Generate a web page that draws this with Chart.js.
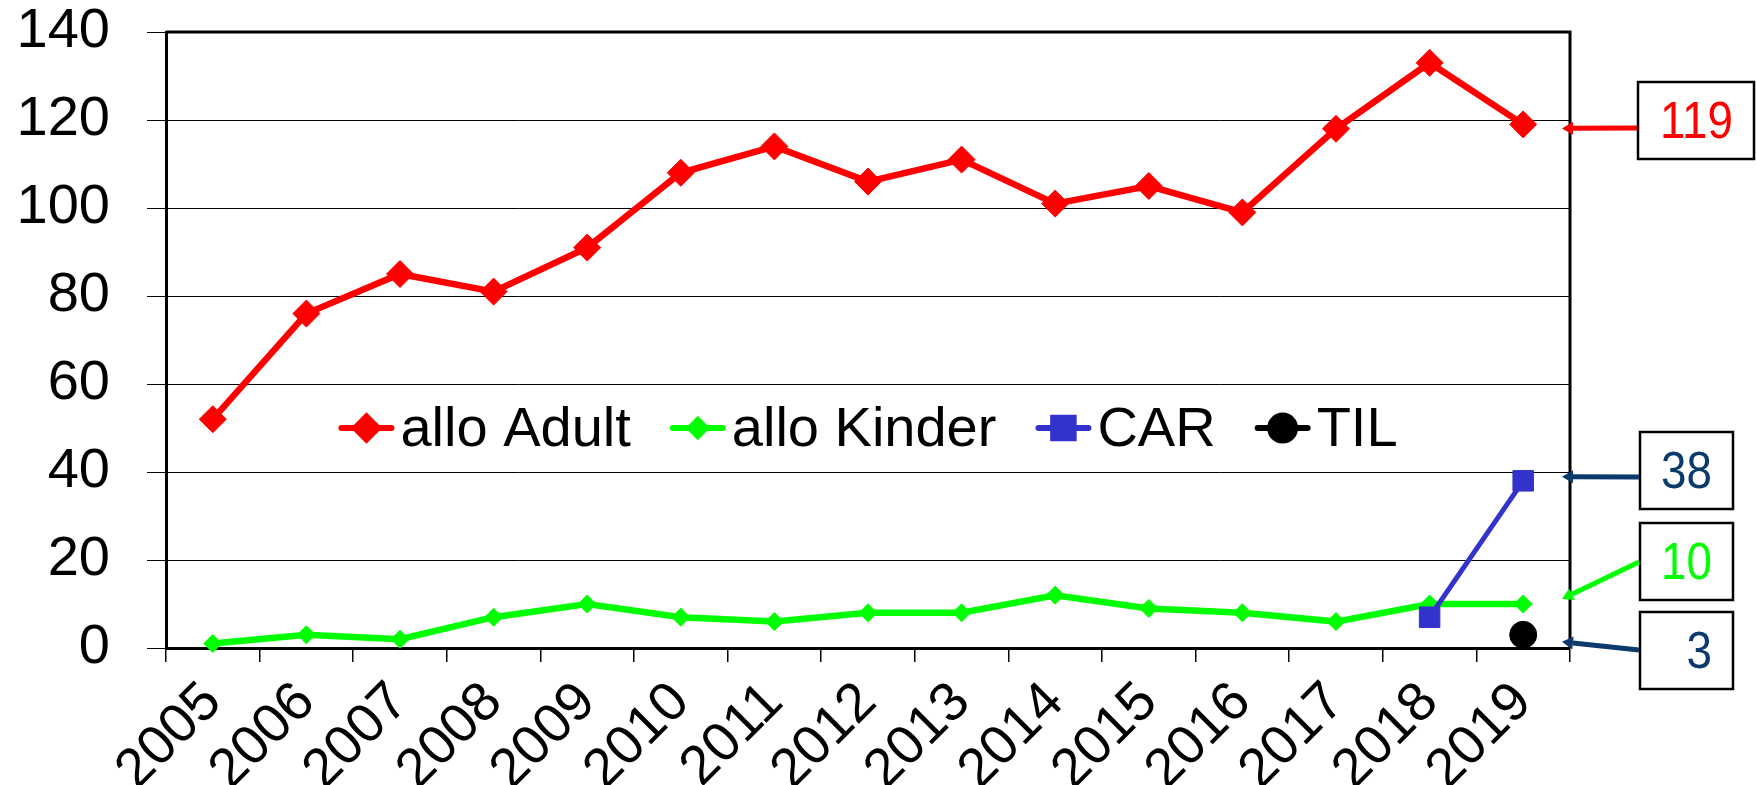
<!DOCTYPE html>
<html>
<head>
<meta charset="utf-8">
<script src="https://cdn.jsdelivr.net/npm/chart.js@4"></script>
<style>
  html, body { margin: 0; padding: 0; background: #fff; }
  #wrap { width: 1756px; height: 785px; }
</style>
</head>
<body>
<div id="wrap"><canvas id="chart" width="1756" height="785"></canvas></div>
<script>
// Jahre (x-Achse)
const years = ['2005', '2006', '2007', '2008', '2009', '2010', '2011', '2012',
  '2013', '2014', '2015', '2016', '2017', '2018', '2019'];

// Werte pro Serie
const alloAdult = [52, 76, 85, 81, 91, 108, 114, 106, 111, 101, 105, 99, 118, 133, 119];
const alloKinder = [1, 3, 2, 7, 10, 7, 6, 8, 8, 12, 9, 8, 6, 10, 10];
const carValues = [null, null, null, null, null, null, null, null, null, null, null, null, null, 7, 38];
const tilValues = [null, null, null, null, null, null, null, null, null, null, null, null, null, null, 3];

// y-Achse
const yMin = 0;
const yMax = 140;
const yStep = 20;

const FONT = "'Liberation Sans', Arial, sans-serif";
const NAVY = '#0b3a6c';

// Legende innerhalb der Zeichenfläche (Linie + Marker + Text)
const innerLegend = {
  id: 'innerLegend',
  afterDatasetsDraw(chart, args, opts) {
    const ctx = chart.ctx;
    const area = chart.chartArea;
    const y = area.top + (area.bottom - area.top) * opts.yFrac;
    ctx.save();
    ctx.font = '56px ' + FONT;
    const items = chart.data.datasets.map(ds => ({ ds, w: ctx.measureText(ds.label).width }));
    const total = items.reduce((s, it) => s + opts.lineLen + opts.textGap + it.w, 0) + opts.itemGap * (items.length - 1);
    let x = (area.left + area.right) / 2 - total / 2;
    items.forEach(it => {
      const ds = it.ds;
      ctx.strokeStyle = ds.borderColor;
      ctx.lineWidth = 6;
      ctx.lineCap = 'round';
      ctx.beginPath();
      ctx.moveTo(x + 3, y);
      ctx.lineTo(x + opts.lineLen - 3, y);
      ctx.stroke();
      ctx.fillStyle = ds.backgroundColor;
      ctx.strokeStyle = ds.borderColor;
      Chart.helpers.drawPoint(ctx, {
        pointStyle: ds.pointStyle, radius: ds.legendRadius, rotation: 0, borderWidth: 1
      }, x + opts.lineLen / 2, y);
      x += opts.lineLen + opts.textGap;
      ctx.fillStyle = '#000';
      ctx.textBaseline = 'alphabetic';
      ctx.textAlign = 'left';
      ctx.fillText(ds.label, x, y + 18);
      x += it.w + opts.itemGap;
    });
    ctx.restore();
  }
};

// Rahmen oben und rechts
const frame = {
  id: 'frame',
  beforeDatasetsDraw(chart) {
    const ctx = chart.ctx;
    const a = chart.chartArea;
    ctx.save();
    ctx.strokeStyle = '#000';
    ctx.lineWidth = 3;
    ctx.beginPath();
    ctx.moveTo(a.left, a.top);
    ctx.lineTo(a.right, a.top);
    ctx.lineTo(a.right, a.bottom);
    ctx.stroke();
    ctx.restore();
  }
};

// Wertkästchen rechts mit Pfeil auf den letzten Wert
const endLabels = {
  id: 'endLabels',
  afterDraw(chart, args, opts) {
    const ctx = chart.ctx;
    const a = chart.chartArea;
    const ys = chart.scales.y;
    ctx.save();
    opts.boxes.forEach(b => {
      const data = chart.data.datasets[b.dataset].data;
      let v = null;
      for (let i = data.length - 1; i >= 0; i--) { if (data[i] != null) { v = data[i]; break; } }
      // Kasten
      ctx.strokeStyle = '#000';
      ctx.lineWidth = 2.5;
      ctx.strokeRect(b.left, b.top, b.width, b.height);
      ctx.save();
      ctx.translate(b.left + b.width - 21, b.top + b.height / 2 + 3);
      ctx.scale(0.88, 1);
      ctx.fillStyle = b.textColor;
      ctx.font = '52px ' + FONT;
      ctx.textAlign = 'right';
      ctx.textBaseline = 'middle';
      ctx.fillText(String(v), 0, 0);
      ctx.restore();
      // Pfeil
      const tx = a.right - 8;
      const ty = ys.getPixelForValue(v) + b.tipShift;
      const sx = b.left - 1;
      const sy = b.arrowY;
      const ang = Math.atan2(ty - sy, tx - sx);
      const head = 11, half = 6.5;
      const bx = tx - Math.cos(ang) * head;
      const by = ty - Math.sin(ang) * head;
      ctx.strokeStyle = b.arrowColor;
      ctx.fillStyle = b.arrowColor;
      ctx.lineWidth = 5;
      ctx.lineCap = 'butt';
      ctx.beginPath();
      ctx.moveTo(sx, sy);
      ctx.lineTo(bx, by);
      ctx.stroke();
      ctx.beginPath();
      ctx.moveTo(tx, ty);
      ctx.lineTo(bx - Math.sin(ang) * half, by + Math.cos(ang) * half);
      ctx.lineTo(bx + Math.sin(ang) * half, by - Math.cos(ang) * half);
      ctx.closePath();
      ctx.fill();
    });
    ctx.restore();
  }
};

const ctx = document.getElementById('chart').getContext('2d');
new Chart(ctx, {
  type: 'line',
  data: {
    labels: years,
    datasets: [
      {
        label: 'allo Adult', data: alloAdult, order: 0,
        borderColor: '#ff0000', backgroundColor: '#ff0000', borderWidth: 6.5,
        pointStyle: 'rectRot', pointRadius: 13.5, pointBorderWidth: 1, legendRadius: 11.5,
        tension: 0, clip: false
      },
      {
        label: 'allo Kinder', data: alloKinder, order: 3,
        borderColor: '#00ff00', backgroundColor: '#00ff00', borderWidth: 6.5,
        pointStyle: 'rectRot', pointRadius: 9, pointBorderWidth: 1, legendRadius: 8,
        tension: 0, clip: false
      },
      {
        label: 'CAR', data: carValues, order: 1,
        borderColor: '#3333cc', backgroundColor: '#3333cc', borderWidth: 5,
        pointStyle: 'rect', pointRadius: 14.5, pointBorderWidth: 1, legendRadius: 14.5,
        tension: 0, clip: false
      },
      {
        label: 'TIL', data: tilValues, order: 2,
        borderColor: '#000000', backgroundColor: '#000000', borderWidth: 5,
        pointStyle: 'circle', pointRadius: 13.5, pointBorderWidth: 1, legendRadius: 12.5,
        tension: 0, clip: false
      }
    ]
  },
  options: {
    responsive: false,
    animation: false,
    devicePixelRatio: 1,
    layout: { padding: { top: 0, right: 186, left: 0, bottom: 0 } },
    plugins: {
      legend: { display: false },
      tooltip: { enabled: false },
      innerLegend: { yFrac: 0.643, lineLen: 56, textGap: 6, itemGap: 39 },
      endLabels: {
        boxes: [
          { dataset: 0, left: 1638, top: 82, width: 116, height: 77, arrowY: 128, tipShift: 4, textColor: '#ff0000', arrowColor: '#ff0000' },
          { dataset: 2, left: 1640, top: 432, width: 93, height: 77, arrowY: 477, tipShift: -4, textColor: NAVY, arrowColor: NAVY },
          { dataset: 1, left: 1640, top: 523, width: 93, height: 77, arrowY: 562, tipShift: -5, textColor: '#00ff00', arrowColor: '#00ff00' },
          { dataset: 3, left: 1640, top: 612, width: 93, height: 77, arrowY: 650, tipShift: 7, textColor: NAVY, arrowColor: NAVY }
        ]
      }
    },
    scales: {
      x: {
        offset: true,
        grid: { offset: true, drawOnChartArea: false, drawTicks: true, tickLength: 14, color: '#000', lineWidth: 1.5 },
        border: { display: true, color: '#000', width: 3 },
        ticks: {
          color: '#000', font: { family: FONT, size: 55 },
          minRotation: 45, maxRotation: 45, autoSkip: false, padding: 8
        },
        afterFit: s => { s.height = 137; }
      },
      y: {
        min: yMin, max: yMax,
        grid: { color: '#000', lineWidth: 1, tickLength: 19 },
        border: { display: true, color: '#000', width: 3 },
        ticks: {
          stepSize: yStep, color: '#000', padding: 37,
          font: { family: FONT, size: 56, lineHeight: 1 }
        },
        afterFit: s => { s.width = 166; s.paddingTop = 32; s.paddingBottom = 0; }
      }
    }
  },
  plugins: [frame, innerLegend, endLabels]
});
</script>
</body>
</html>
